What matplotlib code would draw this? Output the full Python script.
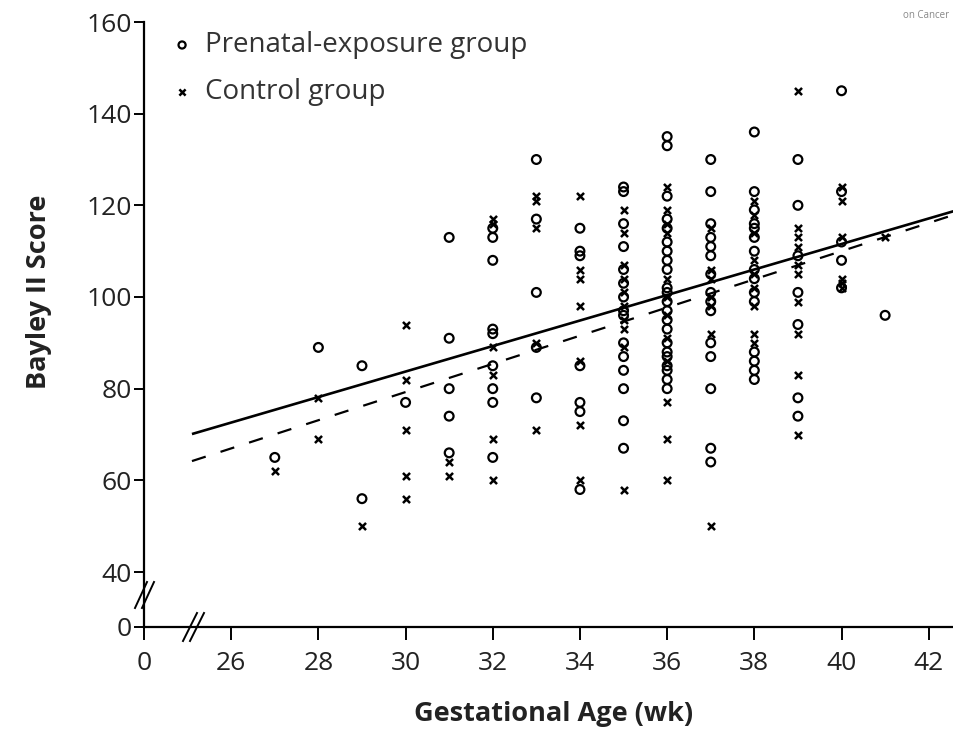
"""
plot.py
Bayley II score vs gestational age, prenatal-exposure vs control group,
with both regression lines and broken axes. Saves out.png.
"""
import matplotlib
matplotlib.use("Agg")
import matplotlib.pyplot as plt

# ---------------------------------------------------------------- data
WEEKS = [27, 28, 29, 30, 31, 32, 33, 34, 35, 36, 37, 38, 39, 40, 41]

exposure_scores = [
    [65],
    [89],
    [85, 56],
    [77],
    [113, 91, 80, 74, 66],
    [115, 113, 108, 93, 92, 85, 80, 77, 65],
    [130, 117, 101, 89, 78],
    [115, 110, 109, 85, 77, 75, 58],
    [124, 123, 116, 111, 106, 103, 100, 97, 96, 90, 87, 84, 80, 73, 67],
    [135, 133, 122, 117, 115, 112, 110, 108, 106, 102, 101, 99, 97, 95,
     93, 90, 88, 87, 85, 84, 82, 80],
    [130, 123, 116, 113, 111, 109, 105, 101, 99, 97, 90, 87, 80, 67, 64],
    [136, 123, 119, 116, 115, 113, 110, 106, 104, 101, 99, 88, 86, 84, 82],
    [130, 120, 109, 101, 94, 78, 74],
    [145, 123, 112, 108, 102],
    [96],
]

control_scores = [
    [62],
    [78, 69],
    [50],
    [94, 82, 71, 61, 56],
    [64, 61],
    [117, 116, 89, 83, 69, 60],
    [122, 121, 115, 90, 71],
    [122, 106, 104, 98, 86, 72, 60],
    [119, 114, 107, 104, 101, 98, 95, 93, 89, 58],
    [124, 119, 116, 114, 104, 100, 96, 91, 86, 77, 69, 60],
    [115, 106, 104, 100, 98, 92, 50],
    [121, 118, 114, 108, 105, 102, 98, 92, 90],
    [145, 115, 113, 111, 107, 105, 99, 92, 83, 70],
    [124, 121, 113, 104, 103, 102],
    [113],
]

# regression lines (end points)
fit_x = [25.1, 42.6]
exposure_fit = [70.1, 118.8]
control_fit = [64.2, 118.0]

# broken axes: the "0" tick sits in front of the break
x_ticks = [24, 26, 28, 30, 32, 34, 36, 38, 40, 42]
x_labels = ["0", "26", "28", "30", "32", "34", "36", "38", "40", "42"]
y_ticks = [28, 40, 60, 80, 100, 120, 140, 160]
y_labels = ["0", "40", "60", "80", "100", "120", "140", "160"]

legend_labels = ["Prenatal-exposure group", "Control group"]

FONT = ["Open Sans", "DejaVu Sans"]


def flatten(weeks, groups):
    xs, ys = [], []
    for w, vals in zip(weeks, groups):
        xs += [w] * len(vals)
        ys += vals
    return xs, ys


# ---------------------------------------------------------------- figure
fig = plt.figure(figsize=(9.54, 7.32), dpi=100)
ax = fig.add_axes([144 / 954, 105 / 732, 810 / 954, 605 / 732])

ex_x, ex_y = flatten(WEEKS, exposure_scores)
ct_x, ct_y = flatten(WEEKS, control_scores)

circle_kw = dict(marker="o", facecolors="none", edgecolors="black",
                 linewidths=1.6)
cross_kw = dict(marker="x", color="black", linewidths=1.8)

ax.scatter(ex_x, ex_y, s=40, zorder=3, **circle_kw)
ax.scatter(ct_x, ct_y, s=26, zorder=3, **cross_kw)

ax.plot(fit_x, exposure_fit, color="black", lw=1.9, zorder=2,
        solid_capstyle="butt")
ax.plot(fit_x, control_fit, color="black", lw=1.6, zorder=2,
        linestyle=(0, (6.5, 7)))

ax.set_xlim(24, 42.58)
ax.set_ylim(28, 160)
ax.set_xticks(x_ticks)
ax.set_xticklabels(x_labels)
ax.set_yticks(y_ticks)
ax.set_yticklabels(y_labels)

for side in ("top", "right"):
    ax.spines[side].set_visible(False)
for side in ("left", "bottom"):
    ax.spines[side].set_linewidth(1.6)

ax.tick_params(axis="y", direction="out", length=7, width=1.4,
               labelsize=19, pad=2)
ax.tick_params(axis="x", direction="out", length=9, width=1.4,
               labelsize=19, pad=8)
for lab in ax.get_xticklabels() + ax.get_yticklabels():
    lab.set_family(FONT)
    lab.set_color("#222222")

ax.set_xlabel("Gestational Age (wk)", fontsize=19.5, fontweight="bold",
              family=FONT, color="#222222")
ax.set_ylabel("Bayley II Score", fontsize=19.5, fontweight="bold",
              family=FONT, color="#222222")
ax.xaxis.set_label_coords(0.506, -0.122)
ax.yaxis.set_label_coords(-0.113, 0.554)

# break marks "//" on both axes
kw = dict(transform=fig.transFigure, color="black", lw=1.4, clip_on=False)
for dx in (0, 7):
    x0 = (135 + dx) / 954
    ax.plot([x0, x0 + 12 / 954], [1 - 608 / 732, 1 - 582 / 732], **kw)
    x1 = (183 + dx) / 954
    ax.plot([x1, x1 + 14 / 954], [1 - 641 / 732, 1 - 613 / 732], **kw)

# legend, drawn by hand in axes coordinates
ax.scatter([0.047], [0.962], s=26, transform=ax.transAxes, clip_on=False,
           **circle_kw)
ax.scatter([0.047], [0.884], s=20, transform=ax.transAxes, clip_on=False,
           **cross_kw)
for yy, label in zip([0.962, 0.884], legend_labels):
    ax.text(0.0753, yy, label, transform=ax.transAxes, fontsize=20,
            family=FONT, color="#333333", va="center", ha="left")

fig.text(0.995, 0.987, "on Cancer", fontsize=7, color="#888888",
         ha="right", va="top", family=FONT)

fig.savefig("out.png", dpi=100, facecolor="white")
